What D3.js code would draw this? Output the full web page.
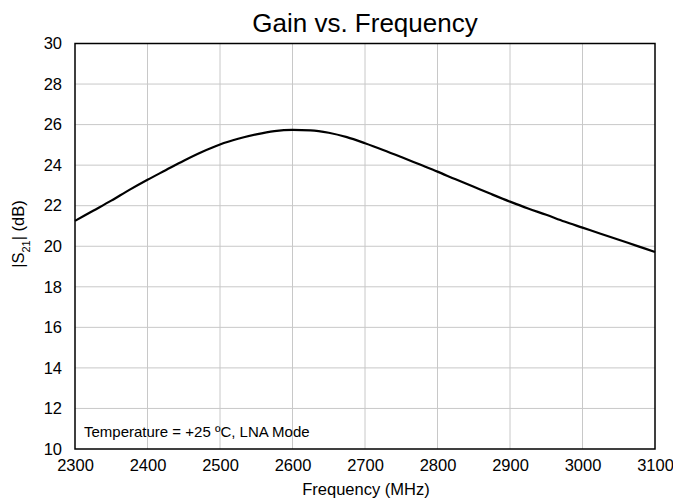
<!DOCTYPE html>
<html>
<head>
<meta charset="utf-8">
<script src="https://cdn.jsdelivr.net/npm/d3@7"></script>
<style>
	body { margin: 0; background: #fff; }
	text { font-family: "Liberation Sans", Arial, sans-serif; fill: #000; }
	.grid line { stroke: #c8c8c8; stroke-width: 1; }
</style>
</head>
<body>
<div id="chart"></div>
<script>
// frequency points (MHz)
const freqs = [2300, 2325, 2350, 2375, 2400, 2425, 2450, 2475, 2500, 2525, 2550,
	2575, 2600, 2625, 2650, 2675, 2700, 2725, 2750, 2775, 2800, 2825, 2850,
	2875, 2900, 2925, 2950, 2975, 3000, 3025, 3050, 3075, 3100];

// |S21| in dB
const gain = [21.25, 21.75, 22.25, 22.78, 23.28, 23.75, 24.22, 24.65, 25.02, 25.30, 25.52,
	25.68, 25.74, 25.72, 25.60, 25.38, 25.08, 24.75, 24.40, 24.04, 23.68, 23.30, 22.93,
	22.56, 22.20, 21.86, 21.55, 21.22, 20.92, 20.62, 20.32, 20.02, 19.72];

const xTicks = [2300, 2400, 2500, 2600, 2700, 2800, 2900, 3000, 3100];
const yTicks = [10, 12, 14, 16, 18, 20, 22, 24, 26, 28, 30];

function main() {
	const SVG_WIDTH = 673;
	const SVG_HEIGHT = 500;

	// plot area
	var margin = {top: 43.5, left: 75, right: 18, bottom: 51};
	var width = SVG_WIDTH - margin.left - margin.right;
	var height = SVG_HEIGHT - margin.top - margin.bottom;

	var svg = d3.select("#chart")
		.append("svg")
		.attr("width", SVG_WIDTH)
		.attr("height", SVG_HEIGHT);

	var g = svg.append("g")
		.attr("transform", "translate(" + margin.left + "," + margin.top + ")");

	var x = d3.scaleLinear().domain([2300, 3100]).range([0, width]);
	var y = d3.scaleLinear().domain([10, 30]).range([height, 0]);

	// grid lines
	g.append("g").attr("class", "grid")
		.selectAll("line").data(xTicks.slice(1, -1)).enter()
		.append("line")
		.attr("x1", d => x(d)).attr("x2", d => x(d))
		.attr("y1", 0).attr("y2", height);

	g.append("g").attr("class", "grid")
		.selectAll("line").data(yTicks.slice(1, -1)).enter()
		.append("line")
		.attr("x1", 0).attr("x2", width)
		.attr("y1", d => y(d)).attr("y2", d => y(d));

	// axes (labels only)
	var xAxis = g.append("g")
		.attr("transform", "translate(0," + height + ")")
		.call(d3.axisBottom(x).tickValues(xTicks).tickSize(0).tickPadding(10).tickFormat(d3.format("d")));
	xAxis.select(".domain").remove();
	xAxis.selectAll("text").style("font-size", "16.5px").style("font-family", "Liberation Sans, Arial, sans-serif");

	var yAxis = g.append("g")
		.call(d3.axisLeft(y).tickValues(yTicks).tickSize(0).tickPadding(13).tickFormat(d3.format("d")));
	yAxis.select(".domain").remove();
	yAxis.selectAll("text").style("font-size", "16.5px").style("font-family", "Liberation Sans, Arial, sans-serif");

	// frame
	g.append("rect")
		.attr("width", width).attr("height", height)
		.attr("fill", "none").attr("stroke", "#000").attr("stroke-width", 1.5);

	// curve
	var line = d3.line()
		.x((d, i) => x(freqs[i]))
		.y(d => y(d))
		.curve(d3.curveMonotoneX);

	g.append("path")
		.datum(gain)
		.attr("d", line)
		.attr("fill", "none")
		.attr("stroke", "#000")
		.attr("stroke-width", 2.2);

	// annotation
	g.append("text")
		.attr("x", 9).attr("y", height - 12.5)
		.style("font-size", "15px")
		.text("Temperature = +25 \u00baC, LNA Mode");

	// title
	svg.append("text")
		.attr("x", 365).attr("y", 32)
		.attr("text-anchor", "middle")
		.style("font-size", "26px")
		.text("Gain vs. Frequency");

	// x title
	svg.append("text")
		.attr("x", 366).attr("y", 495)
		.attr("text-anchor", "middle")
		.style("font-size", "16.5px")
		.text("Frequency (MHz)");

	// y title with subscript
	var yt = svg.append("text")
		.attr("transform", "translate(24,234) rotate(-90)")
		.attr("text-anchor", "middle")
		.style("font-size", "16.5px");
	yt.append("tspan").text("|S");
	yt.append("tspan").attr("baseline-shift", "sub").style("font-size", "11px").text("21");
	yt.append("tspan").text("| (dB)");
}

function whenDocumentLoaded(action) {
	if (document.readyState === "loading") {
		document.addEventListener("DOMContentLoaded", action);
	} else {
		action();
	}
}

whenDocumentLoaded(() => {
	main()
});
</script>
</body>
</html>
